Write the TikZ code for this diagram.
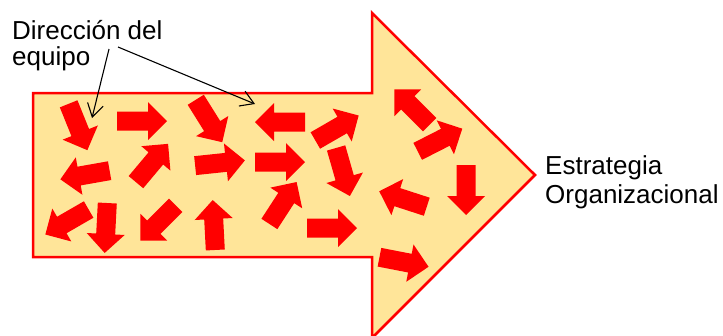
\documentclass[tikz,border=0pt]{standalone}
\usepackage{fontspec}
\setmainfont{Liberation Sans}
\usetikzlibrary{arrows.meta}
\definecolor{arena}{HTML}{FFE599}
\definecolor{rojo}{HTML}{FF0000}

\begin{document}
\begin{tikzpicture}[x=1pt, y=-1pt,
   flecha/.pic={\fill[rojo] (-25,-9.5) -- (6,-9.5) -- (6,-19) -- (25,0) -- (6,19)
     -- (6,9.5) -- (-25,9.5) -- cycle;},
   texto/.style={font=\fontsize{26}{26}\selectfont, align=left, inner sep=0pt},
   ar/.style={-{Straight Barb[length=13pt, width=16pt]}, line width=1.1pt, draw=black}]
 \useasboundingbox (0,0) rectangle (723,335);
 \filldraw[fill=arena, draw=rojo, line width=2.5pt, line join=miter]
   (33,93) -- (372,93) -- (372,13) -- (535,175) -- (372,338) -- (372,257) -- (33,257) -- cycle;
 \pic[rotate=-68] at (78,127) {flecha}; \pic at (142,121) {flecha};
 \pic[rotate=50] at (152,163) {flecha}; \pic[rotate=190] at (85,175) {flecha};
 \pic[rotate=210] at (67,222) {flecha}; \pic[rotate=-93] at (106,228) {flecha};
 \pic[rotate=-135] at (158,223) {flecha};
 \pic[rotate=-58] at (209,121) {flecha}; \pic[rotate=180] at (280,122) {flecha};
 \pic[rotate=30] at (337,128) {flecha}; \pic[rotate=6] at (220,163) {flecha};
 \pic at (280,162) {flecha}; \pic[rotate=-74] at (343,172) {flecha};
 \pic[rotate=93] at (214,225) {flecha}; \pic[rotate=57] at (283,203) {flecha};
 \pic at (332,228) {flecha};
 \pic[rotate=135] at (412,107) {flecha}; \pic[rotate=27] at (440,140) {flecha};
 \pic[rotate=-90] at (466,190) {flecha}; \pic[rotate=162] at (403,199) {flecha};
 \pic[rotate=-11] at (404,262) {flecha};
 \node[texto, anchor=base west] (equipo) at (12,65) {Dirección del\\equipo};
 \node[texto, anchor=base west, font=\fontsize{26}{29}\selectfont] (estrategia)
   at (545,203) {Estrategia\\Organizacional};
 \coordinate (c1) at (109,49); \coordinate (c2) at (118,47);
 \coordinate (t1) at (92,118); \coordinate (t2) at (255,104);
 \draw[ar] (c1) -- (t1); \draw[ar] (c2) -- (t2);
\end{tikzpicture}
\end{document}
